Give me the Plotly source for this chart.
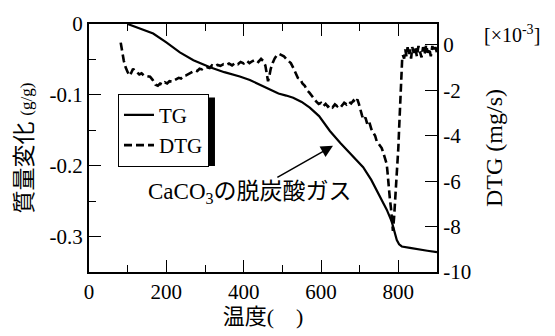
import plotly.graph_objects as go

# ---- data ----
tg_temp = [100, 130, 166, 200, 235, 270, 313, 350, 390, 416, 440, 468, 490, 510, 528,
           550, 571, 595, 615, 623, 650, 680, 709, 730, 752, 770, 783, 790, 796, 802,
           809, 830, 848, 875, 900]
tg_mass = [0.0, -0.006, -0.0135, -0.026, -0.040, -0.051, -0.061, -0.068, -0.074, -0.079,
           -0.085, -0.093, -0.098, -0.101, -0.104, -0.110, -0.118, -0.130, -0.144, -0.151,
           -0.168, -0.185, -0.202, -0.220, -0.242, -0.262, -0.279, -0.292, -0.305, -0.311,
           -0.314, -0.316, -0.318, -0.320, -0.322]

dtg_temp = [82, 86, 90, 95, 100, 106, 110, 114, 118, 124, 130, 136, 142, 150, 158, 165,
            172, 178, 184, 190, 196, 202, 208, 214, 220, 226, 232, 238, 244, 250, 256,
            262, 268, 274, 280, 286, 292, 298, 305, 312, 318, 325, 332, 340, 348, 355,
            362, 370, 378, 385, 392, 400, 408, 415, 422, 430, 438, 445, 450, 456, 460,
            463, 466, 470, 475, 480, 486, 492, 498, 504, 510, 516, 522, 528, 534, 540,
            546, 552, 558, 564, 570, 576, 582, 588, 594, 600, 606, 612, 618, 624, 630,
            636, 642, 648, 654, 660, 666, 672, 678, 684, 690, 694, 698, 702, 706, 710,
            715, 720, 725, 730, 734, 740, 744, 750, 757, 762, 766, 770, 772, 774, 776,
            778, 781, 783, 786, 789, 791, 794, 796, 798, 800, 802, 804, 806, 808, 810,
            812, 815, 818, 821, 824, 827, 830, 833, 836, 840, 844, 848, 852, 856, 860,
            864, 868, 872, 876, 880, 884, 888, 892, 896, 900]
dtg_rate = [0.1, -0.3, -0.7, -1.0, -1.2, -1.35, -1.15, -1.05, -1.15, -1.2, -1.3, -1.25,
            -1.35, -1.38, -1.4, -1.55, -1.75, -1.8, -1.7, -1.75, -1.65, -1.7, -1.6, -1.62,
            -1.55, -1.5, -1.45, -1.48, -1.38, -1.35, -1.3, -1.22, -1.2, -1.12, -1.15, -1.05,
            -1.08, -1.0, -0.98, -1.02, -0.9, -0.95, -0.88, -0.92, -0.85, -0.88, -0.82, -0.9,
            -0.8, -0.85, -0.75, -0.82, -0.7, -0.8, -0.72, -0.65, -0.75, -0.62, -0.7, -0.9,
            -1.3, -1.6, -1.4, -1.05, -0.8, -0.6, -0.45, -0.4, -0.45, -0.5, -0.62, -0.7,
            -0.8, -1.0, -1.25, -1.45, -1.5, -1.7, -1.8, -2.0, -2.1, -2.25, -2.4, -2.5, -2.6,
            -2.55, -2.7, -2.6, -2.72, -2.65, -2.75, -2.62, -2.7, -2.6, -2.68, -2.55, -2.62,
            -2.5, -2.58, -2.45, -2.55, -2.4, -2.6, -2.9, -3.1, -3.3, -3.2, -3.5, -3.4, -3.7,
            -3.82, -4.0, -4.24, -4.4, -4.54, -4.8, -5.0, -5.25, -5.6, -6.09, -6.4, -6.76,
            -7.2, -7.6, -8.19, -7.6, -7.06, -6.4, -5.92, -5.2, -4.54, -3.7, -2.86, -1.89,
            -0.88, -0.6, -0.46, -0.6, -0.2, -0.5, -0.1, -0.4, -0.2, -0.6, -0.1, -0.35,
            -0.15, -0.5, -0.05, -0.3, -0.55, -0.1, -0.4, 0.0, -0.35, -0.15, -0.5, -0.05,
            -0.3, -0.1, -0.35]

tg_ticks = [0, -0.1, -0.2, -0.3]
tg_tick_labels = ["0", "-0.1", "-0.2", "-0.3"]
dtg_ticks = [0, -2, -4, -6, -8, -10]
dtg_tick_labels = ["0", "-2", "-4", "-6", "-8", "-10"]

FONT = "Liberation Serif, Noto Sans CJK JP, serif"

fig = go.Figure()
fig.add_trace(go.Scatter(x=tg_temp, y=tg_mass, mode="lines", name="TG",
                         line=dict(color="black", width=2.2)))
fig.add_trace(go.Scatter(x=dtg_temp, y=dtg_rate, mode="lines", name="DTG", yaxis="y2",
                         line=dict(color="black", width=2.6, dash="8px,4px")))

base = dict(showline=True, linecolor="black", linewidth=2, ticks="inside",
            ticklen=12, tickcolor="black")

fig.update_layout(
    width=555, height=336,
    margin=dict(l=89, r=118, t=20, b=56),
    paper_bgcolor="white", plot_bgcolor="white",
    font=dict(family=FONT, color="black", size=21),
    xaxis=dict(range=[0, 900], mirror="ticks", showgrid=False, zeroline=False,
               tickmode="linear", tick0=0, dtick=200,
               minor=dict(ticks="inside", ticklen=7, dtick=100, tick0=0),
               title=dict(text="温度(    )", font=dict(size=22), standoff=4), **base),
    yaxis=dict(range=[-0.35, 0], showgrid=False, zeroline=False,
               tickmode="array", tickvals=tg_ticks, ticktext=tg_tick_labels,
               minor=dict(ticks="inside", ticklen=7, dtick=0.05, tick0=0),
               title=dict(text="質量変化 <span style='font-size:17px'>(g/g)</span>",
                          font=dict(size=23), standoff=10), **base),
    yaxis2=dict(range=[-10, 0.92], overlaying="y", side="right", showgrid=False,
                zeroline=False, tickmode="array", tickvals=dtg_ticks, ticktext=dtg_tick_labels,
                title=dict(text="DTG (mg/s)", font=dict(size=24)), **base),
    legend=dict(x=0.0833, y=0.719, xanchor="left", yanchor="top",
                bgcolor="white", bordercolor="black", borderwidth=1),
)

# legend drop shadow
fig.add_shape(type="rect", xref="paper", yref="paper",
              x0=0.0948, x1=0.362, y0=0.427, y1=0.704,
              fillcolor="black", line=dict(width=0), layer="above")

fig.add_annotation(text="[×10<sup>-3</sup>]", xref="paper", yref="paper",
                   x=1.216, y=0.96, xanchor="center", yanchor="middle",
                   showarrow=False, font=dict(size=20))
fig.add_annotation(text="CaCO<sub>3</sub>の脱炭酸ガス", x=631, y=-0.172, ax=-83, ay=47,
                   showarrow=True, arrowhead=2, arrowsize=1.6, arrowwidth=1.5,
                   arrowcolor="black", font=dict(size=23))

fig.write_html("out.html")
